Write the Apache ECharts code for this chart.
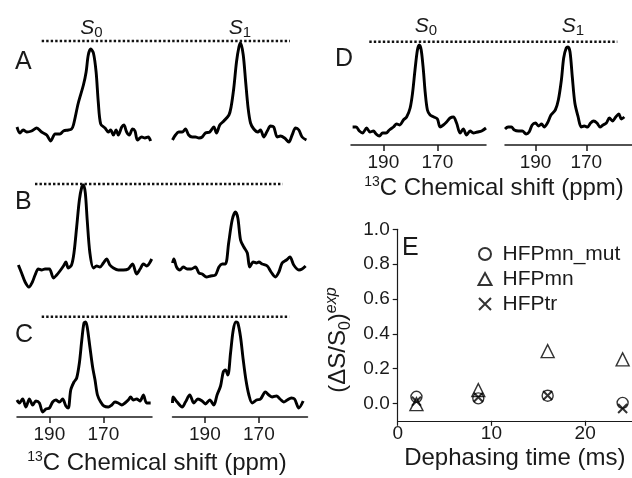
<!DOCTYPE html>
<html><head><meta charset="utf-8">
<script src="https://cdn.jsdelivr.net/npm/echarts@6/dist/echarts.min.js"></script>
<style>html,body{margin:0;padding:0;background:#fff}#c{width:632px;height:478px}</style>
</head><body><div id="c"></div>
<script>
// ---------- data ----------
const ppmRange = [152, 202];
const ppmTickValues = [190, 170];

const A_S0 = [[202,14],[200.9,8],[199.7,11],[198.4,9],[196.6,10],[194.7,13],[192.9,9],[191.0,6],[189.5,0],[187.9,7],[186.1,7],[184.8,10],[183.0,11],[181.8,12],[181.1,16],[179.3,38],[177.4,56],[176.4,69],[175.6,86],[174.7,92],[173.7,88],[172.7,69],[171.9,39],[171.0,17],[169.4,13],[168.2,9],[167.3,11],[166.3,6],[165.3,11],[164.5,6],[163.2,14],[162.4,16],[161.4,9],[160.4,6],[159.2,12],[158.3,10],[157.4,1],[155.8,4],[154.6,3],[153.4,4],[152.5,0]];
const A_S1 = [[202,1],[200.9,6],[199.7,9],[198.4,9],[197.2,12],[196.0,6],[194.7,4],[193.5,4],[192.2,3],[191.0,4],[189.8,8],[188.2,9],[186.7,14],[185.7,8],[184.5,16],[183.0,20],[181.1,26],[180.3,34],[179.3,53],[178.3,79],[177.4,94],[176.8,98],[175.8,86],[174.9,59],[174.0,33],[173.1,18],[171.9,12],[170.4,9],[169.4,11],[168.2,4],[166.9,10],[165.7,15],[164.5,14],[163.2,4],[162.0,5],[160.5,3],[158.9,-1],[157.7,6],[156.4,13],[155.2,11],[154.0,4],[152.4,1]];
const B_S0 = [[201.5,19],[200.3,11],[199.0,2],[197.6,-3],[196.3,2],[195.3,9],[194.1,15],[192.9,14],[191.6,15],[190.0,15],[188.5,6],[187.3,9],[186.1,13],[184.8,18],[183.9,22],[183.0,16],[181.8,19],[180.9,31],[179.9,57],[178.9,84],[178.0,97],[177.4,99],[176.7,91],[176.0,64],[175.0,31],[173.7,16],[172.5,18],[171.3,17],[170.0,21],[168.8,25],[167.6,19],[166.3,16],[164.5,14],[162.6,14],[160.8,15],[159.2,20],[157.7,10],[156.4,15],[155.2,20],[154.0,18],[152.1,25]];
const B_S1 = [[202,21],[201.5,25],[200.5,17],[199.3,14],[198.0,17],[196.6,15],[195.1,15],[193.5,17],[192.2,11],[191.0,10],[189.4,7],[187.9,8],[186.1,9],[184.8,17],[183.6,20],[182.4,20],[181.2,41],[179.9,64],[178.7,72],[177.8,66],[176.8,44],[175.6,37],[174.3,31],[173.4,17],[172.1,22],[170.9,21],[170.0,22],[168.8,20],[166.9,18],[165.5,12],[163.9,7],[162.6,12],[161.4,21],[159.8,24],[158.5,27],[157.1,19],[155.2,14],[154.0,15],[152.7,18]];
const C_S0 = [[202,17],[201.1,14],[199.9,18],[198.7,10],[197.4,18],[196.2,12],[195.0,16],[193.7,14],[192.5,5],[191.3,8],[190.0,9],[188.8,15],[187.6,17],[186.3,15],[185.1,18],[183.9,11],[183.0,9],[182.1,27],[180.9,35],[179.9,39],[178.9,54],[178.0,77],[177.2,94],[176.6,95],[176.0,90],[175.0,70],[174.0,50],[173.1,37],[172.2,22],[171.0,15],[169.8,11],[168.2,10],[166.9,12],[165.7,15],[164.5,14],[163.2,12],[162.0,14],[160.8,17],[159.9,20],[158.9,17],[157.7,18],[156.4,16],[155.2,22],[154.0,14],[152.5,14]];
const C_S1 = [[202,14],[201.8,20],[200.3,15],[198.4,10],[197.2,15],[195.6,22],[194.1,14],[192.6,18],[191.0,16],[189.8,13],[188.2,17],[186.7,12],[185.5,22],[184.2,31],[183.2,45],[182.4,47],[181.5,42],[180.5,64],[179.5,87],[178.5,95],[177.8,94],[176.8,80],[175.8,57],[174.8,37],[173.7,22],[172.5,14],[170.9,17],[169.4,18],[167.6,25],[166.3,22],[165.1,20],[163.5,21],[162.2,18],[160.8,15],[159.5,17],[158.0,19],[156.8,18],[155.2,9],[153.6,16]];
const D_S0 = [[201.4,18],[200.1,18],[198.9,14],[197.7,12],[196.2,17],[195.0,13],[193.7,14],[192.7,11],[191.5,9],[190.3,12],[189.0,12],[187.8,15],[186.3,18],[185.1,21],[183.9,20],[182.6,25],[181.4,28],[180.1,37],[179.2,52],[178.3,75],[177.4,95],[176.7,100],[176.0,95],[175.2,75],[174.5,52],[173.7,35],[172.7,30],[171.3,28],[170.0,26],[169.0,18],[167.8,20],[166.6,23],[165.3,27],[164.1,28],[162.9,22],[161.6,12],[160.4,16],[159.2,10],[157.9,14],[156.7,12],[155.2,13],[153.6,14],[152.0,17]];
const D_S1 = [[202,16],[200.8,18],[199.5,18],[198.3,15],[196.7,14],[195.2,14],[193.7,11],[192.5,13],[191.3,20],[190.0,22],[188.8,19],[187.6,21],[186.6,18],[185.3,22],[183.9,30],[182.2,35],[181.0,45],[179.8,65],[178.9,87],[177.9,97],[177.2,98],[176.4,93],[175.5,68],[174.5,42],[173.2,28],[172.0,18],[170.8,19],[169.5,18],[168.3,22],[167.1,24],[165.8,22],[164.6,18],[163.4,20],[162.1,22],[160.9,27],[159.7,24],[158.4,28],[157.2,31],[156.2,26],[155.0,28]];

// reference (dotted) level of each row, same units as the spectra
const refLevels = [100, 100, 100.3, 103.3];

// panel E
const seriesNames = ['HFPmn_mut', 'HFPmn', 'HFPtr'];
const timeMs = [2, 8.6, 16, 24];
const hfpmnMut = [0.038, 0.029, 0.044, 0.003];
const hfpmn = [-0.004, 0.076, 0.30, 0.253];
const hfptr = [0.012, 0.035, 0.045, -0.029];
const timeTicks = [0, 10, 20];
const ratioTicks = [0, 0.2, 0.4, 0.6, 0.8, 1.0];

// ---------- chart ----------
const FONT = '"Liberation Sans", Arial, sans-serif';
const INK = '#1a1a1a';
const chart = echarts.init(document.getElementById('c'));

const rows = [
  {top: 41,    lefts: [17, 172.5], ref: [41.7, 290],   spectra: [A_S0, A_S1], axis: false},
  {top: 184,   lefts: [17, 172.5], ref: [35, 282.7],   spectra: [B_S0, B_S1], axis: false},
  {top: 316.7, lefts: [17, 172.5], ref: [41.7, 289.3], spectra: [C_S0, C_S1], axis: true},
  {top: 41.7,  lefts: [351, 505],  ref: [369.3, 617.3], spectra: [D_S0, D_S1], axis: true}
];

const grid = [], xAxis = [], yAxis = [], series = [];
rows.forEach((r, ri) => {
  const h = refLevels[ri];
  r.spectra.forEach((data, k) => {
    const gi = grid.length;
    grid.push({left: r.lefts[k], top: r.top, width: 135, height: h});
    xAxis.push({gridIndex: gi, type: 'value', min: ppmRange[0], max: ppmRange[1], inverse: true, show: r.axis,
      axisLine: {onZero: false, lineStyle: {color: INK, width: 1.5}},
      axisTick: {show: true, customValues: ppmTickValues, length: 6, lineStyle: {color: INK, width: 1.5}},
      axisLabel: {customValues: ppmTickValues, fontSize: 19, fontFamily: FONT, color: INK, margin: 8},
      splitLine: {show: false}});
    yAxis.push({gridIndex: gi, type: 'value', min: 0, max: h, show: false});
    series.push({type: 'line', xAxisIndex: gi, yAxisIndex: gi, data: data, showSymbol: false, symbol: 'none',
      smooth: 0.3, clip: false, silent: true, lineStyle: {color: '#000', width: 2.9, join: 'round'}});
  });
  const gi = grid.length;
  grid.push({left: r.ref[0], top: r.top, width: r.ref[1] - r.ref[0], height: h});
  xAxis.push({gridIndex: gi, type: 'value', min: 0, max: 1, show: false});
  yAxis.push({gridIndex: gi, type: 'value', min: 0, max: h, show: false});
  series.push({type: 'line', xAxisIndex: gi, yAxisIndex: gi, data: [[0, h], [1, h]], symbol: 'none', clip: false, silent: true,
    lineStyle: {color: '#111', width: 2.6, type: [2.4, 2.1]}});
});

// panel E
const ge = grid.length;
grid.push({left: 397.7, top: 229.3, width: 236.3, height: 191.5});
xAxis.push({gridIndex: ge, type: 'value', min: 0, max: 25,
  axisLine: {onZero: false, lineStyle: {color: INK, width: 1.2}},
  axisTick: {customValues: timeTicks, length: 5, lineStyle: {color: INK, width: 1.2}},
  axisLabel: {customValues: timeTicks, fontSize: 19, fontFamily: FONT, color: INK, margin: 3},
  splitLine: {show: false},
  name: 'Dephasing time (ms)', nameLocation: 'middle', nameGap: 26,
  nameTextStyle: {fontSize: 24, fontFamily: FONT, color: INK}});
yAxis.push({gridIndex: ge, type: 'value', min: -0.1, max: 1.0,
  axisLine: {show: true, onZero: false, lineStyle: {color: INK, width: 1.2}},
  axisTick: {show: true, customValues: ratioTicks, length: 5, lineStyle: {color: INK, width: 1.2}},
  axisLabel: {customValues: ratioTicks, formatter: v => v.toFixed(1), fontSize: 19, fontFamily: FONT, color: INK, margin: 8},
  splitLine: {show: false},
  name: '(ΔS/S{sub|0}){sup|exp}', nameLocation: 'middle', nameRotate: 90, nameGap: 44,
  nameTextStyle: {fontSize: 24, fontFamily: FONT, color: INK, lineHeight: 30, padding: [0, 30, 0, 0],
    rich: {sub: {fontSize: 16, fontFamily: FONT, color: INK, verticalAlign: 'bottom', lineHeight: 16},
           sup: {fontSize: 16, fontFamily: FONT, color: INK, fontStyle: 'italic', verticalAlign: 'top', lineHeight: 16}}}});

const eVals = [hfpmnMut, hfpmn, hfptr];
const eSymbols = ['circle', 'triangle', 'path://M0 0L10 10M0 10L10 0'];
const eSizes = [11, 13, 9];
const eBorder = [1.4, 1.4, 2];
seriesNames.forEach((name, i) => {
  series.push({name: name, type: 'scatter', xAxisIndex: ge, yAxisIndex: ge,
    data: timeMs.map((t, j) => [t, eVals[i][j]]),
    symbol: eSymbols[i], symbolSize: eSizes[i],
    itemStyle: {color: 'rgba(0,0,0,0)', borderColor: '#000', borderWidth: eBorder[i]}});
});

// text helpers
function letter(t, x, y) {
  return {type: 'text', x: x, y: y, style: {text: t, fontSize: 25, fontFamily: FONT, fill: INK, verticalAlign: 'middle', align: 'left'}};
}
function sLabel(sub, x, y) {
  return {type: 'text', x: x, y: y, style: {text: '{s|S}{b|' + sub + '}', align: 'center', verticalAlign: 'middle',
    rich: {s: {fontSize: 21, fontStyle: 'italic', fontFamily: FONT, fill: INK, lineHeight: 24},
           b: {fontSize: 15, fontFamily: FONT, fill: INK, verticalAlign: 'bottom', lineHeight: 14}}}};
}
function shiftTitle(x, y) {
  return {type: 'text', x: x, y: y, style: {text: '{u|13}{m|C Chemical shift (ppm)}', align: 'center', verticalAlign: 'middle',
    rich: {u: {fontSize: 14, fontFamily: FONT, fill: INK, verticalAlign: 'top', lineHeight: 14},
           m: {fontSize: 24, fontFamily: FONT, fill: INK, lineHeight: 26}}}};
}

chart.setOption({
  animation: false,
  backgroundColor: '#fff',
  grid: grid, xAxis: xAxis, yAxis: yAxis, series: series,
  legend: {data: seriesNames, orient: 'vertical', left: 477.5, top: 243.5, padding: 0, itemWidth: 13, itemHeight: 12, itemGap: 4,
    textStyle: {fontSize: 21, fontFamily: FONT, color: INK, lineHeight: 21, padding: [0, 0, 0, 6]}},
  graphic: [
    letter('A', 15, 62.5), letter('B', 15, 202.5), letter('C', 15, 335), letter('D', 335, 59), letter('E', 402, 248),
    sLabel('0', 91.5, 28), sLabel('1', 240, 28), sLabel('0', 426, 26), sLabel('1', 573, 26),
    shiftTitle(157, 463), shiftTitle(494, 188)
  ]
});
</script>
</body></html>
